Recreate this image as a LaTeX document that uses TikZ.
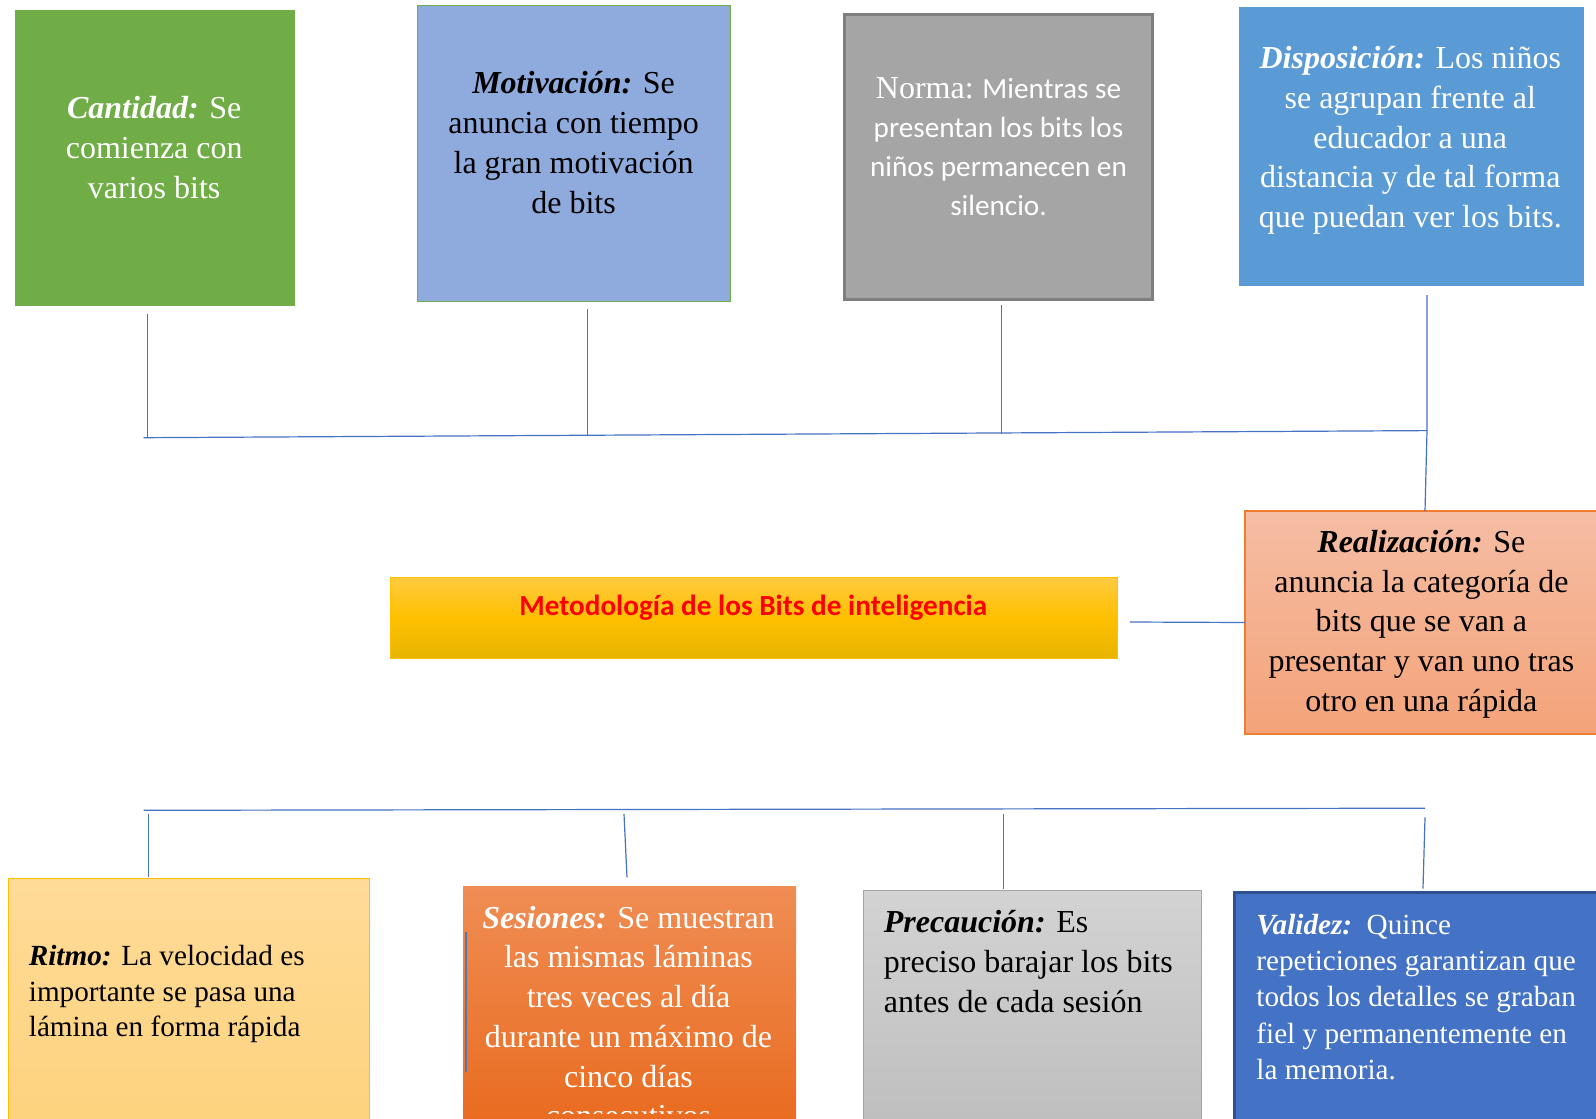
\documentclass[tikz,border=0pt]{standalone}
\usepackage{fontspec}
\setmainfont{Liberation Serif}
\newfontfamily\calibri{Carlito}
\usepackage{xcolor}
\usetikzlibrary{positioning,calc}

\definecolor{linkblue}{HTML}{4472C4}
\definecolor{cantgreen}{HTML}{70AD47}
\definecolor{motivblue}{HTML}{8FAADC}
\definecolor{normagray}{HTML}{A5A5A5}
\definecolor{normaedge}{HTML}{7F7F7F}
\definecolor{dispoblue}{HTML}{5B9BD5}
\definecolor{gold}{HTML}{FFC000}
\definecolor{goldtop}{HTML}{FFCA40}
\definecolor{goldbot}{HTML}{E6B400}
\definecolor{peachtop}{HTML}{F5BDA4}
\definecolor{peachbot}{HTML}{F4A379}
\definecolor{peachedge}{HTML}{ED7D31}
\definecolor{ritmotop}{HTML}{FFDB98}
\definecolor{ritmobot}{HTML}{FED27C}
\definecolor{sestop}{HTML}{F08D54}
\definecolor{sesbot}{HTML}{E8691C}
\definecolor{prectop}{HTML}{D3D3D3}
\definecolor{precbot}{HTML}{BDBDBD}
\definecolor{validedge}{HTML}{2F528F}

\newcommand{\lbl}[1]{{\bfseries\itshape #1}}

\begin{document}
\begin{tikzpicture}[x=0.5pt, y=-0.5pt,
  card/.style={inner sep=0pt, outer sep=0pt},
  bigtxt/.style={inner sep=0pt, align=center, font=\fontsize{16}{19.85}\selectfont},
  lefttxt/.style={inner sep=0pt, align=left, anchor=west},
  conn/.style={draw=linkblue, line width=0.6pt}]

  \clip (0,0) rectangle (1596,1119);
  \fill[white] (0,0) rectangle (1596,1119);

  % Upper row of cards
  \node[card, fill=cantgreen, minimum width=140pt, minimum height=148pt]
    (cant) at (155.3,158.3) {};
  \node[bigtxt, text=white] (cantT) at (154.2,147.5)
    {\lbl{Cantidad:} Se\\comienza con\\varios bits};

  \node[card, fill=motivblue, draw=cantgreen, line width=0.6pt,
        minimum width=156.75pt, minimum height=148.1pt]
    (motiv) at (574,153.2) {};
  \node[bigtxt] (motivT) at (573.6,142.5)
    {\lbl{Motivación:} Se\\anuncia con tiempo\\la gran motivación\\de bits};

  \node[card, fill=normagray, draw=normaedge, line width=1.5pt,
        minimum width=153.7pt, minimum height=142.5pt]
    (norma) at (998.5,156.8) {};
  \node[inner sep=0pt, align=center, text=white,
        font=\calibri\fontsize{14.6}{19.35}\selectfont] (normaT) at (998.5,146.6)
    {{\rmfamily\fontsize{16}{19.35}\selectfont Norma:} Mientras se\\presentan los bits los\\niños permanecen en\\silencio.};

  \node[card, fill=dispoblue, minimum width=172.55pt, minimum height=139.45pt]
    (dispo) at (1411.35,146.55) {};
  \node[bigtxt, text=white] (dispoT) at (1410.3,140.4)
    {\lbl{Disposición:} Los niños\\se agrupan frente al\\educador a una\\distancia y de tal forma\\que puedan ver los bits.};

  % Title and realisation card
  \node[card, top color=goldtop, bottom color=goldbot, middle color=gold,
        draw=gold, line width=0.5pt, minimum width=363.35pt, minimum height=40.75pt]
    (meto) at (754.25,617.85) {};
  \node[inner sep=0pt, text=red, font=\calibri\bfseries\fontsize{14.6}{17}\selectfont]
    (metoT) at (753.2,608) {Metodología de los Bits de inteligencia};

  \node[card, top color=peachtop, bottom color=peachbot, draw=peachedge,
        line width=0.6pt, minimum width=178pt, minimum height=111.45pt]
    (realiz) at (1423,622.5) {};
  \node[bigtxt] (realizT) at (1421.4,624)
    {\lbl{Realización:} Se\\anuncia la categoría de\\bits que se van a\\presentar y van uno tras\\otro en una rápida};

  % Lower row of cards
  \node[card, top color=ritmotop, bottom color=ritmobot, draw=gold,
        line width=0.6pt, minimum width=180.7pt, minimum height=130.8pt]
    (ritmo) at (188.8,1009.2) {};
  \node[lefttxt, font=\fontsize{14.6}{17.8}\selectfont] (ritmoT) at (28.5,994)
    {\lbl{Ritmo:} La velocidad es\\importante se pasa una\\lámina en forma rápida};

  \node[card, top color=sestop, bottom color=sesbot,
        minimum width=166.45pt, minimum height=126.7pt]
    (sesion) at (629.55,1013.3) {};
  \begin{scope}
    \clip (463,880) rectangle (796,1113);
    \node[bigtxt, text=white] (sesionT) at (628.5,1016.5)
      {\lbl{Sesiones:} Se muestran\\las mismas láminas\\tres veces al día\\durante un máximo de\\cinco días\\consecutivos};
  \end{scope}

  \node[card, top color=prectop, bottom color=precbot, draw=normagray,
        line width=0.6pt, minimum width=168.95pt, minimum height=124.65pt]
    (precau) at (1032.15,1015.35) {};
  \node[lefttxt, font=\fontsize{16}{19.85}\selectfont] (precauT) at (883.5,961.5)
    {\lbl{Precaución:} Es\\preciso barajar los bits\\antes de cada sesión};

  \node[card, fill=linkblue, draw=validedge, line width=1.5pt,
        minimum width=182.65pt, minimum height=123.65pt]
    (valid) at (1417.35,1016.35) {};
  \node[lefttxt, text=white, font=\fontsize{14.6}{18.15}\selectfont] (validT) at (1256,997)
    {\lbl{Validez:}\ \ Quince\\repeticiones garantizan que\\todos los detalles se graban\\fiel y permanentemente en\\la memoria.};

  % Upper bus
  \coordinate (tbL) at (143.5,437.7);
  \coordinate (tbR) at (1427,430.6);
  \coordinate (t1) at (147.6,313.5);  \coordinate (t1b) at (147.6,437.5);
  \coordinate (t2) at (587.3,309.4);  \coordinate (t2b) at (587.3,435.5);
  \coordinate (t3) at (1001.6,305.4); \coordinate (t3b) at (1001.6,433.5);
  \coordinate (t4) at (1427,295.2);
  \coordinate (t5) at (1425,511);
  \draw[conn] (tbL) -- (tbR);
  \draw[conn] (t1) -- (t1b);
  \draw[conn] (t2) -- (t2b);
  \draw[conn] (t3) -- (t3b);
  \draw[conn] (t4) -- (tbR) -- (t5);

  % Title to realisation
  \coordinate (mR) at (1129.9,622);
  \draw[conn] (mR) -- (realiz.west);

  % Lower bus
  \coordinate (bbL) at (143.5,810.3);
  \coordinate (bbR) at (1425,808.2);
  \coordinate (b1) at (148.6,814);   \coordinate (b1b) at (148.6,877.4);
  \coordinate (b2) at (624,814);     \coordinate (b2b) at (627,877.4);
  \coordinate (b3) at (1003.6,814);  \coordinate (b3b) at (1003.6,888.6);
  \coordinate (b4) at (1425,817.4);  \coordinate (b4b) at (1423,888.6);
  \draw[conn] (bbL) -- (bbR);
  \draw[conn] (b1) -- (b1b);
  \draw[conn] (b2) -- (b2b);
  \draw[conn] (b3) -- (b3b);
  \draw[conn] (b4) -- (b4b);

  % stray mark on the sessions card
  \coordinate (s1) at (466,932);
  \coordinate (s2) at (466,1072);
  \draw[draw=linkblue!70!gray, line width=0.8pt] (s1) -- (s2);
\end{tikzpicture}
\end{document}
